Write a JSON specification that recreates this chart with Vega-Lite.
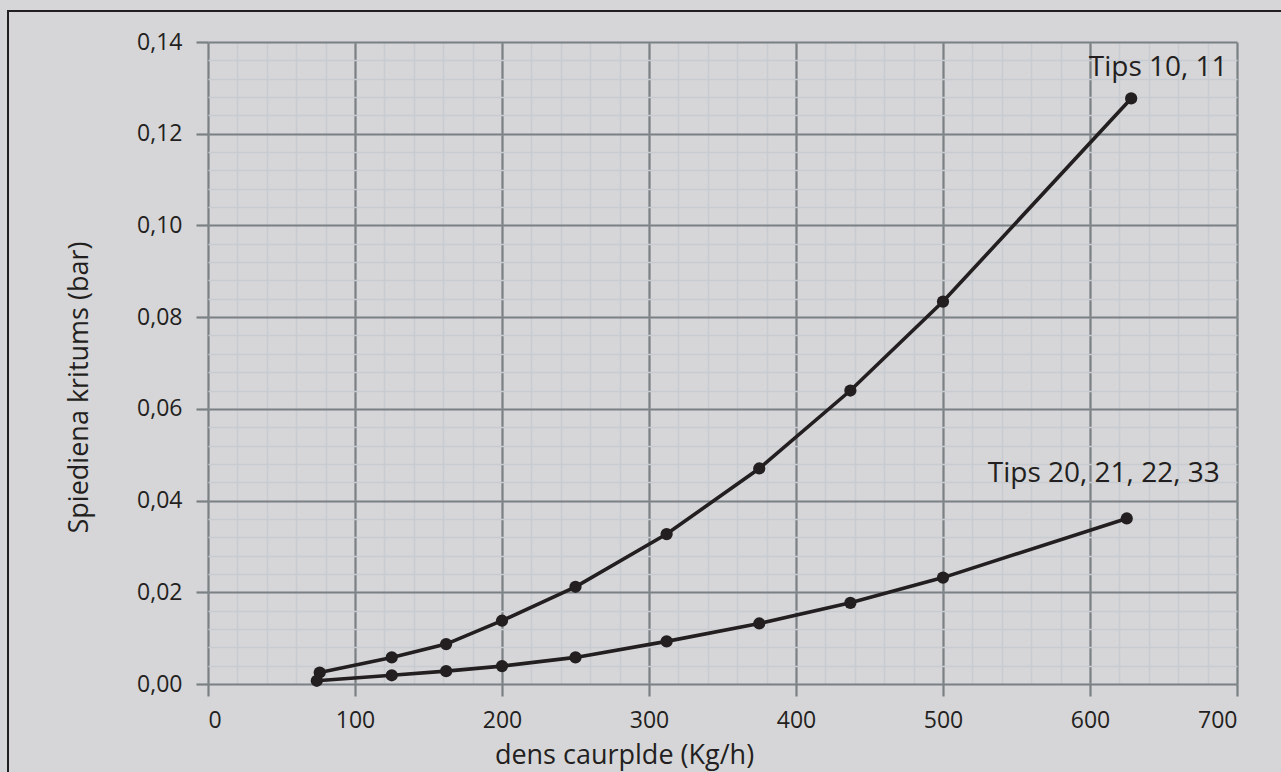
{
  "$schema": "https://vega.github.io/schema/vega-lite/v6.json",
  "width": 1029,
  "height": 642,
  "autosize": "none",
  "padding": {"left": 208, "top": 42, "right": 44, "bottom": 88},
  "background": "#d6d6d8",
  "config": {
    "view": {"stroke": null},
    "font": "Open Sans",
    "axis": {
      "domain": false,
      "labelFont": "Open Sans",
      "labelFontSize": 23,
      "labelColor": "#231f20",
      "titleFont": "Open Sans",
      "titleFontSize": 27,
      "titleFontWeight": "normal",
      "titleColor": "#231f20"
    }
  },
  "data": {
    "values": [
      {"series": "Tips 10, 11", "x": 76, "y": 0.0025},
      {"series": "Tips 10, 11", "x": 125, "y": 0.0058},
      {"series": "Tips 10, 11", "x": 162, "y": 0.0087},
      {"series": "Tips 10, 11", "x": 200, "y": 0.0138},
      {"series": "Tips 10, 11", "x": 250, "y": 0.0212},
      {"series": "Tips 10, 11", "x": 312, "y": 0.0327},
      {"series": "Tips 10, 11", "x": 375, "y": 0.0470},
      {"series": "Tips 10, 11", "x": 437, "y": 0.0640},
      {"series": "Tips 10, 11", "x": 500, "y": 0.0834},
      {"series": "Tips 10, 11", "x": 628, "y": 0.1277},
      {"series": "Tips 20, 21, 22, 33", "x": 74, "y": 0.0007},
      {"series": "Tips 20, 21, 22, 33", "x": 125, "y": 0.0019},
      {"series": "Tips 20, 21, 22, 33", "x": 162, "y": 0.0028},
      {"series": "Tips 20, 21, 22, 33", "x": 200, "y": 0.0039},
      {"series": "Tips 20, 21, 22, 33", "x": 250, "y": 0.0058},
      {"series": "Tips 20, 21, 22, 33", "x": 312, "y": 0.0093},
      {"series": "Tips 20, 21, 22, 33", "x": 375, "y": 0.0132},
      {"series": "Tips 20, 21, 22, 33", "x": 437, "y": 0.0177},
      {"series": "Tips 20, 21, 22, 33", "x": 500, "y": 0.0232},
      {"series": "Tips 20, 21, 22, 33", "x": 625, "y": 0.0361}
    ]
  },
  "layer": [
    {
      "mark": {"type": "point", "opacity": 0},
      "encoding": {
        "x": {
          "field": "x", "type": "quantitative",
          "scale": {"domain": [0, 700], "nice": false, "zero": false},
          "axis": {
            "orient": "bottom", "title": null, "labels": false, "ticks": false,
            "grid": true, "gridColor": "#c8cbcf", "gridWidth": 1.5,
            "values": [0,20,40,60,80,100,120,140,160,180,200,220,240,260,280,300,320,340,360,380,400,420,440,460,480,500,520,540,560,580,600,620,640,660,680,700]
          }
        },
        "y": {
          "field": "y", "type": "quantitative",
          "scale": {"domain": [0, 0.14], "nice": false, "zero": false},
          "axis": {
            "orient": "left", "title": null, "labels": false, "ticks": false,
            "grid": true, "gridColor": "#c8cbcf", "gridWidth": 1.5,
            "values": [0,0.004,0.008,0.012,0.016,0.02,0.024,0.028,0.032,0.036,0.04,0.044,0.048,0.052,0.056,0.06,0.064,0.068,0.072,0.076,0.08,0.084,0.088,0.092,0.096,0.1,0.104,0.108,0.112,0.116,0.12,0.124,0.128,0.132,0.136,0.14]
          }
        }
      }
    },
    {
      "mark": {"type": "line", "stroke": "#231f20", "strokeWidth": 3.6},
      "encoding": {
        "x": {
          "field": "x", "type": "quantitative",
          "scale": {"domain": [0, 700], "nice": false, "zero": false},
          "axis": {
            "orient": "bottom",
            "title": "dens caurplde (Kg/h)",
            "values": [0,100,200,300,400,500,600,700],
            "grid": true, "gridColor": "#7a8083", "gridWidth": 2.2,
            "ticks": true, "tickColor": "#7a8083", "tickWidth": 2.2, "tickSize": 12,
            "labelPadding": 13,
            "titleX": 416, "titleY": 79, "titleAlign": "center", "titleBaseline": "alphabetic"
          }
        },
        "y": {
          "field": "y", "type": "quantitative",
          "scale": {"domain": [0, 0.14], "nice": false, "zero": false},
          "axis": {
            "orient": "left",
            "title": "Spiediena kritums (bar)",
            "values": [0,0.02,0.04,0.06,0.08,0.1,0.12,0.14],
            "labelExpr": "replace(format(datum.value, '.2f'), '.', ',')",
            "grid": true, "gridColor": "#7a8083", "gridWidth": 2.2,
            "ticks": true, "tickColor": "#7a8083", "tickWidth": 2.2, "tickSize": 12,
            "labelPadding": 14,
            "titleX": -121, "titleY": 345, "titleAlign": "center", "titleBaseline": "alphabetic"
          }
        },
        "detail": {"field": "series"}
      }
    },
    {
      "mark": {"type": "circle", "color": "#231f20", "opacity": 1, "size": 150},
      "encoding": {
        "x": {"field": "x", "type": "quantitative", "scale": {"domain": [0, 700], "nice": false, "zero": false}, "axis": null},
        "y": {"field": "y", "type": "quantitative", "scale": {"domain": [0, 0.14], "nice": false, "zero": false}, "axis": null}
      }
    },
    {
      "transform": [{"filter": {"field": "x", "equal": 628}}],
      "mark": {"type": "text", "font": "Open Sans", "fontSize": 28, "color": "#231f20", "align": "center", "baseline": "alphabetic", "dx": 27, "dy": -22},
      "encoding": {
        "x": {"field": "x", "type": "quantitative", "scale": {"domain": [0, 700], "nice": false, "zero": false}, "axis": null},
        "y": {"field": "y", "type": "quantitative", "scale": {"domain": [0, 0.14], "nice": false, "zero": false}, "axis": null},
        "text": {"field": "series"}
      }
    },
    {
      "transform": [{"filter": {"field": "x", "equal": 625}}],
      "mark": {"type": "text", "font": "Open Sans", "fontSize": 28, "color": "#231f20", "align": "center", "baseline": "alphabetic", "dx": -23, "dy": -36},
      "encoding": {
        "x": {"field": "x", "type": "quantitative", "scale": {"domain": [0, 700], "nice": false, "zero": false}, "axis": null},
        "y": {"field": "y", "type": "quantitative", "scale": {"domain": [0, 0.14], "nice": false, "zero": false}, "axis": null},
        "text": {"field": "series"}
      }
    },
    {
      "mark": {"type": "rect", "fill": "transparent", "stroke": "#231f20", "strokeWidth": 1.7, "clip": false},
      "encoding": {
        "x": {"datum": -136, "type": "quantitative", "scale": {"domain": [0, 700], "nice": false, "zero": false}, "axis": null},
        "x2": {"datum": 760},
        "y": {"datum": 0.1468, "type": "quantitative", "scale": {"domain": [0, 0.14], "nice": false, "zero": false}, "axis": null},
        "y2": {"datum": -0.03}
      }
    }
  ],
  "resolve": {"axis": {"x": "independent", "y": "independent"}}
}
